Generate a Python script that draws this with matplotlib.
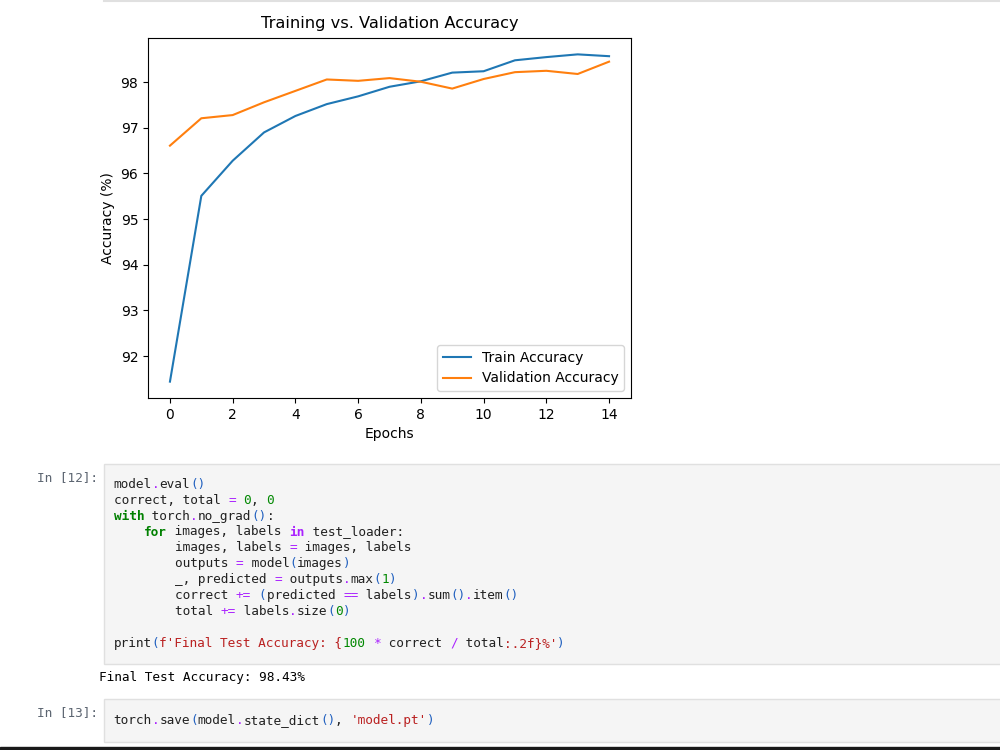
import matplotlib.pyplot as plt
from matplotlib.patches import Rectangle

# accuracy per epoch
epochs = list(range(15))
train_acc = [91.44, 95.51, 96.28, 96.90, 97.26, 97.52, 97.69, 97.90, 98.02,
             98.21, 98.24, 98.48, 98.55, 98.61, 98.57]
val_acc = [96.61, 97.21, 97.28, 97.56, 97.81, 98.06, 98.03, 98.09, 98.01,
           97.86, 98.07, 98.22, 98.25, 98.18, 98.45]

# notebook code colours
NAME = '#212121'
OP = '#AA22FF'
BR = '#1f5fbf'
KW = '#008000'
NUM = '#008800'
STR = '#BA2121'

cell12 = [
    [('model', NAME), ('.', OP), ('eval', NAME), ('()', BR)],
    [('correct, total ', NAME), ('=', OP), (' ', NAME), ('0', NUM), (', ', NAME), ('0', NUM)],
    [('with', KW, 'bold'), (' torch', NAME), ('.', OP), ('no_grad', NAME), ('()', BR), (':', NAME)],
    [('    ', NAME), ('for', KW, 'bold'), (' images, labels ', NAME), ('in', OP, 'bold'),
     (' test_loader:', NAME)],
    [('        images, labels ', NAME), ('=', OP), (' images, labels', NAME)],
    [('        outputs ', NAME), ('=', OP), (' model', NAME), ('(', BR), ('images', NAME), (')', BR)],
    [('        _, predicted ', NAME), ('=', OP), (' outputs', NAME), ('.', OP), ('max', NAME),
     ('(', BR), ('1', NUM), (')', BR)],
    [('        correct ', NAME), ('+=', OP), (' ', NAME), ('(', BR), ('predicted ', NAME), ('==', OP),
     (' labels', NAME), (')', BR), ('.', OP), ('sum', NAME), ('()', BR), ('.', OP), ('item', NAME),
     ('()', BR)],
    [('        total ', NAME), ('+=', OP), (' labels', NAME), ('.', OP), ('size', NAME), ('(', BR),
     ('0', NUM), (')', BR)],
    [],
    [('print', NAME), ('(', BR), ("f'Final Test Accuracy: {", STR), ('100', NUM), (' ', NAME),
     ('*', OP), (' correct ', NAME), ('/', OP), (' total', NAME), (":.2f}%'", STR), (')', BR)],
]
cell13 = [
    [('torch', NAME), ('.', OP), ('save', NAME), ('(', BR), ('model', NAME), ('.', OP),
     ('state_dict', NAME), ('()', BR), (', ', NAME), ("'model.pt'", STR), (')', BR)],
]
output12 = 'Final Test Accuracy: 98.43%'

fig = plt.figure(figsize=(10, 7.5), dpi=100)

# page overlay in pixel coordinates
page = fig.add_axes([0, 0, 1, 1], zorder=0)
page.set_xlim(0, 1000)
page.set_ylim(750, 0)
page.axis('off')
page.patch.set_visible(False)

page.plot([104, 1000], [0.8, 0.8], color='#e0e0e0', lw=1.5)
page.add_patch(Rectangle((0, 747), 1000, 4, color='#1a1a1a'))

page.add_patch(Rectangle((103.5, 463.5), 900, 200, facecolor='#f5f5f5', edgecolor='#e0e0e0', lw=1))
page.add_patch(Rectangle((103.5, 698.5), 900, 43, facecolor='#f5f5f5', edgecolor='#e0e0e0', lw=1))

FS = 9.15
CW = FS * 100 / 72 * 0.602


def draw_code(lines, x0, y0, dy):
    for i, line in enumerate(lines):
        col = 0
        for seg in line:
            txt, color = seg[0], seg[1]
            weight = seg[2] if len(seg) > 2 else 'normal'
            page.text(x0 + col * CW, y0 + i * dy, txt, color=color, fontweight=weight,
                      family='DejaVu Sans Mono', fontsize=FS, va='center', ha='left')
            col += len(txt)


draw_code(cell12, 113.5, 484.3, 15.9)
draw_code(cell13, 113.5, 720.7, 15.9)

page.text(37, 477.7, 'In [12]:', color='#5b6470', family='DejaVu Sans Mono', fontsize=FS, va='center')
page.text(37, 712.3, 'In [13]:', color='#5b6470', family='DejaVu Sans Mono', fontsize=FS, va='center')
page.text(99, 677.3, output12, color='#000000', family='DejaVu Sans Mono', fontsize=FS, va='center')

# the chart itself
ax = fig.add_axes([0.148, 1 - 398 / 750, 0.483, 360 / 750], zorder=1)
ax.plot(epochs, train_acc, label='Train Accuracy')
ax.plot(epochs, val_acc, label='Validation Accuracy')
ax.set_title('Training vs. Validation Accuracy', fontsize=11.7, pad=7.5)
ax.set_xlabel('Epochs')
ax.set_ylabel('Accuracy (%)')
ax.legend(loc='lower right')

fig.savefig('out.png', dpi=100)
